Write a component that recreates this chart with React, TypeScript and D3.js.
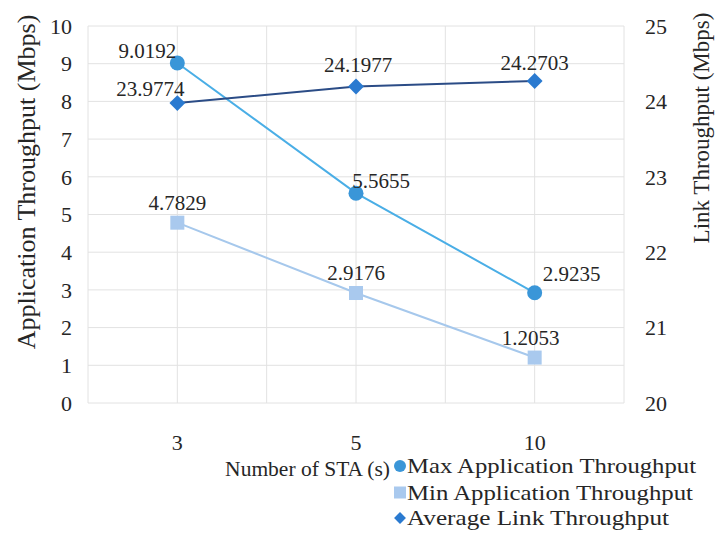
import React from "react";
import * as d3 from "d3";

const categories = ["3", "5", "10"];
const maxApp = [9.0192, 5.5655, 2.9235];
const minApp = [4.7829, 2.9176, 1.2053];
const avgLink = [23.9774, 24.1977, 24.2703];
const leftTicks = [0, 1, 2, 3, 4, 5, 6, 7, 8, 9, 10];
const rightTicks = [20, 21, 22, 23, 24, 25];

const W = 716, H = 533;
const L = 88, R = 624, T = 26, B = 403;
const FONT = "Liberation Serif";
const TXT = "#262626";

export default function App() {
  const x = d3.scaleBand<string>().domain(categories).range([L, R]);
  const cx = (c: string) => (x(c) as number) + x.bandwidth() / 2;
  const yL = d3.scaleLinear().domain([0, 10]).range([B, T]);
  const yR = d3.scaleLinear().domain([20, 25]).range([B, T]);

  const vLines: number[] = [];
  categories.forEach((c) => {
    vLines.push(x(c) as number);
    vLines.push(cx(c));
  });
  vLines.push(R);

  const lineL = d3.line<number>().x((_, i) => cx(categories[i])).y((v) => yL(v));
  const lineR = d3.line<number>().x((_, i) => cx(categories[i])).y((v) => yR(v));

  const maxLabelOffsets = [[-30, -12], [25, -13], [37, -19]];
  const minLabelOffsets = [[0, -20], [0, -20], [-4, -20]];
  const avgLabelOffsets = [[-27, -14], [2, -22], [0, -18]];

  const diamond = d3.symbol().type(d3.symbolDiamond2).size(160)() as string;
  const diamondSmall = d3.symbol().type(d3.symbolDiamond2).size(90)() as string;

  return (
    <svg width={W} height={H} style={{ display: "block", position: "absolute", left: 0, top: 0, fontFamily: FONT }}>
      <rect width={W} height={H} fill="#fff" />
      {leftTicks.map((t) => (
        <line key={"h" + t} x1={L} x2={R} y1={yL(t)} y2={yL(t)} stroke="#e2e2e2" strokeWidth={1} />
      ))}
      {vLines.map((v, i) => (
        <line key={"v" + i} x1={v} x2={v} y1={T} y2={B} stroke="#e2e2e2" strokeWidth={1} />
      ))}
      {leftTicks.map((t) => (
        <text key={"lt" + t} x={72} y={yL(t)} dy="0.35em" textAnchor="end" fontSize={22} fill={TXT} style={{ fontFamily: FONT }}>{t}</text>
      ))}
      {rightTicks.map((t) => (
        <text key={"rt" + t} x={645} y={yR(t)} dy="0.35em" textAnchor="start" fontSize={22} fill={TXT} style={{ fontFamily: FONT }}>{t}</text>
      ))}
      {categories.map((c) => (
        <text key={"xt" + c} x={cx(c)} y={442} dy="0.35em" textAnchor="middle" fontSize={22} fill={TXT} style={{ fontFamily: FONT }}>{c}</text>
      ))}
      <text transform={`translate(26,182) rotate(-90)`} textAnchor="middle" dy="0.35em" fontSize={26} fill={TXT} style={{ fontFamily: FONT }}>
        Application Throughput (Mbps)
      </text>
      <text transform={`translate(701,128) rotate(-90)`} textAnchor="middle" dy="0.35em" fontSize={23} fill={TXT} style={{ fontFamily: FONT }}>
        Link Throughput (Mbps)
      </text>
      <text x={390} y={468} dy="0.35em" textAnchor="end" fontSize={21.5} fill={TXT} style={{ fontFamily: FONT }}>Number of STA (s)</text>

      <path d={lineL(minApp) as string} fill="none" stroke="#a6c8ec" strokeWidth={2} />
      <path d={lineL(maxApp) as string} fill="none" stroke="#4aaee6" strokeWidth={2} />
      <path d={lineR(avgLink) as string} fill="none" stroke="#2b4c86" strokeWidth={2} />

      {minApp.map((v, i) => (
        <rect key={"ms" + i} x={cx(categories[i]) - 7} y={yL(v) - 7} width={14} height={14} fill="#a9c9ee" />
      ))}
      {maxApp.map((v, i) => (
        <circle key={"mc" + i} cx={cx(categories[i])} cy={yL(v)} r={7.5} fill="#3a96d8" />
      ))}
      {avgLink.map((v, i) => (
        <path key={"ad" + i} d={diamond} transform={`translate(${cx(categories[i])},${yR(v)})`} fill="#2a7ad0" />
      ))}

      {maxApp.map((v, i) => (
        <text key={"ml" + i} x={cx(categories[i]) + maxLabelOffsets[i][0]} y={yL(v) + maxLabelOffsets[i][1]} textAnchor="middle" dy="0.35em" fontSize={21} fill={TXT} style={{ fontFamily: FONT }}>{v.toFixed(4)}</text>
      ))}
      {minApp.map((v, i) => (
        <text key={"nl" + i} x={cx(categories[i]) + minLabelOffsets[i][0]} y={yL(v) + minLabelOffsets[i][1]} textAnchor="middle" dy="0.35em" fontSize={21} fill={TXT} style={{ fontFamily: FONT }}>{v.toFixed(4)}</text>
      ))}
      {avgLink.map((v, i) => (
        <text key={"al" + i} x={cx(categories[i]) + avgLabelOffsets[i][0]} y={yR(v) + avgLabelOffsets[i][1]} textAnchor="middle" dy="0.35em" fontSize={21} fill={TXT} style={{ fontFamily: FONT }}>{v.toFixed(4)}</text>
      ))}

      <g fill={TXT}>
        <circle cx={400} cy={466} r={6} fill="#3a96d8" />
        <text x={407} y={466} dy="0.35em" fontSize={21} textLength={289} lengthAdjust="spacingAndGlyphs" style={{ fontFamily: FONT }}>Max Application Throughput</text>
        <rect x={394} y={486.5} width={12} height={12} fill="#a9c9ee" />
        <text x={407} y={492.5} dy="0.35em" fontSize={21} textLength={286} lengthAdjust="spacingAndGlyphs" style={{ fontFamily: FONT }}>Min Application Throughput</text>
        <path d={diamondSmall} transform="translate(400,518)" fill="#2a7ad0" />
        <text x={407} y={518} dy="0.35em" fontSize={21} textLength={262} lengthAdjust="spacingAndGlyphs" style={{ fontFamily: FONT }}>Average Link Throughput</text>
      </g>
    </svg>
  );
}
